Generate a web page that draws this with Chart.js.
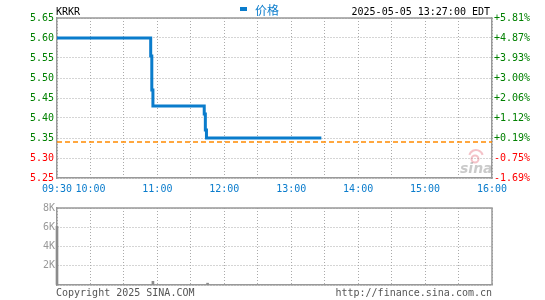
<!DOCTYPE html>
<html>
<head>
<meta charset="utf-8">
<script src="https://cdn.jsdelivr.net/npm/chart.js@4"></script>
<style>
  body { margin: 0; background: #fff; }
  #wrap { position: relative; width: 545px; height: 300px; }
  canvas { position: absolute; left: 0; }
</style>
</head>
<body>
<div id="wrap">
  <canvas id="priceChart" width="545" height="200" style="top:0"></canvas>
  <canvas id="volChart" width="545" height="100" style="top:200px"></canvas>
</div>
<script>
// minutes since 09:30
const priceTimes = [0, 84, 85, 86, 132, 133, 134, 237];
const priceValues = [5.60, 5.60, 5.555, 5.47, 5.43, 5.41, 5.37, 5.35];
const prevClose = 5.34;
const volTimes = [0, 86, 135];
const volValues = [6100, 380, 190];
const tickMinutes = [0, 30, 60, 90, 120, 150, 180, 210, 240, 270, 300, 330, 360, 390];
const tickLabels = ["09:30", "10:00", "", "11:00", "", "12:00", "", "13:00", "", "14:00", "", "15:00", "", "16:00"];
const symbolName = "KRKR";
const stampText = "2025-05-05 13:27:00 EDT";
const legendText = "价格";

const mono = "'DejaVu Sans Mono', 'Liberation Mono', monospace";
const blue = "#0a7ccc";
const gridColor = "#aaaaaa";
const frameColor = "#999999";

const priceData = priceTimes.map((t, i) => ({ x: t, y: priceValues[i] }));
const closeData = [{ x: 0, y: prevClose }, { x: 390, y: prevClose }];
const volData = volTimes.map((t, i) => ({ x: t, y: volValues[i] }));

function setTicks(axis) {
  axis.ticks = tickMinutes.map((v) => ({ value: v }));
}

const headerPlugin = {
  id: "header",
  afterDraw(chart) {
    const ctx = chart.ctx;
    const a = chart.chartArea;
    ctx.save();
    // top frame line
    ctx.strokeStyle = frameColor;
    ctx.lineWidth = 1.5;
    ctx.beginPath();
    ctx.moveTo(a.left, a.top);
    ctx.lineTo(a.right, a.top);
    ctx.stroke();
    ctx.font = "10px " + mono;
    ctx.textBaseline = "middle";
    ctx.fillStyle = "#000";
    ctx.textAlign = "left";
    ctx.fillText(symbolName, 56, 12);
    ctx.textAlign = "right";
    ctx.fillText(stampText, 490, 12);
    // legend
    ctx.fillStyle = blue;
    ctx.fillRect(240, 7, 7, 4);
    ctx.font = "12px 'Noto Sans CJK SC'";
    ctx.textAlign = "left";
    ctx.fillText(legendText, 255, 10);
    ctx.restore();
  },
  beforeDatasetsDraw(chart) {
    // sina watermark
    const ctx = chart.ctx;
    ctx.save();
    ctx.globalAlpha = 0.35;
    ctx.strokeStyle = "#e05060";
    ctx.lineWidth = 2;
    ctx.beginPath();
    ctx.arc(475, 159, 3.5, 0, Math.PI * 2);
    ctx.stroke();
    ctx.beginPath();
    ctx.arc(476, 157, 7, Math.PI * 1.1, Math.PI * 1.9);
    ctx.stroke();
    ctx.fillStyle = "#666";
    ctx.font = "italic bold 14px 'DejaVu Sans'";
    ctx.textAlign = "left";
    ctx.textBaseline = "middle";
    ctx.fillText("sina", 460, 169);
    ctx.restore();
  },
};

new Chart(document.getElementById("priceChart"), {
  type: "line",
  data: {
    datasets: [
      {
        label: legendText,
        data: priceData,
        borderColor: blue,
        borderWidth: 3,
        pointRadius: 0,
        stepped: "after",
        yAxisID: "y",
      },
      {
        label: "close",
        data: closeData,
        borderColor: "#ff8a00",
        borderWidth: 1.5,
        borderDash: [5, 3],
        pointRadius: 0,
        yAxisID: "y",
      },
    ],
  },
  options: {
    animation: false,
    responsive: false,
    layout: { padding: { top: 18, left: 0, right: 0, bottom: 0 } },
    plugins: { legend: { display: false }, tooltip: { enabled: false } },
    scales: {
      x: {
        type: "linear",
        min: 0,
        max: 390,
        afterBuildTicks: setTicks,
        afterFit: (s) => { s.height = 22; },
        grid: { color: gridColor, drawTicks: false },
        border: { color: frameColor, width: 1.5, dash: [1, 2] },
        ticks: {
          autoSkip: false,
          maxRotation: 0,
          padding: 5,
          color: blue,
          font: { family: mono, size: 10 },
          callback: (v, i) => tickLabels[i],
        },
      },
      y: {
        position: "left",
        min: 5.25,
        max: 5.65,
        afterFit: (s) => { s.width = 57; },
        grid: { color: gridColor, drawTicks: false },
        border: { color: frameColor, width: 1.5, dash: [1, 2] },
        ticks: {
          stepSize: 0.05,
          padding: 3,
          font: { family: mono, size: 10 },
          color: (c) => (c.tick.value < prevClose ? "#ff0000" : "#008000"),
          callback: (v) => v.toFixed(2),
        },
      },
      y2: {
        position: "right",
        min: 5.25,
        max: 5.65,
        afterFit: (s) => { s.width = 53; },
        grid: { display: false, drawTicks: false },
        border: { color: frameColor, width: 1.5 },
        ticks: {
          stepSize: 0.05,
          padding: 2,
          font: { family: mono, size: 10 },
          color: (c) => (c.tick.value < prevClose ? "#ff0000" : "#008000"),
          callback: (v) => {
            const p = ((v - prevClose) / prevClose) * 100;
            return (p >= 0 ? "+" : "") + p.toFixed(2) + "%";
          },
        },
      },
    },
  },
  plugins: [headerPlugin],
});

const footerPlugin = {
  id: "footer",
  afterDraw(chart) {
    const ctx = chart.ctx;
    const a = chart.chartArea;
    ctx.save();
    // top and right frame lines
    ctx.strokeStyle = frameColor;
    ctx.lineWidth = 1.5;
    ctx.beginPath();
    ctx.moveTo(a.left, a.top);
    ctx.lineTo(a.right, a.top);
    ctx.lineTo(a.right, a.bottom);
    ctx.stroke();
    ctx.font = "10px " + mono;
    ctx.fillStyle = "#555";
    ctx.textBaseline = "middle";
    ctx.textAlign = "left";
    ctx.fillText("Copyright 2025 SINA.COM", 56, 93);
    ctx.textAlign = "right";
    ctx.fillText("http://finance.sina.com.cn", 492, 93);
    ctx.restore();
  },
};

new Chart(document.getElementById("volChart"), {
  type: "bar",
  data: {
    datasets: [
      {
        label: "volume",
        data: volData,
        backgroundColor: "#8c8c8c",
        barThickness: 2,
        clip: false,
      },
    ],
  },
  options: {
    animation: false,
    responsive: false,
    layout: { padding: { top: 1, left: 0, right: 53, bottom: 0 } },
    plugins: { legend: { display: false }, tooltip: { enabled: false } },
    scales: {
      x: {
        type: "linear",
        min: 0,
        max: 390,
        offset: false,
        afterBuildTicks: setTicks,
        afterFit: (s) => { s.height = 15; },
        grid: { color: gridColor, drawTicks: false, offset: false },
        border: { color: frameColor, width: 1.5, dash: [1, 2] },
        ticks: { display: false },
      },
      y: {
        min: 0,
        max: 8000,
        afterFit: (s) => { s.width = 57; },
        grid: { color: gridColor, drawTicks: false },
        border: { color: frameColor, width: 1.5, dash: [1, 2] },
        ticks: {
          stepSize: 2000,
          padding: 2,
          color: "#999",
          font: { family: mono, size: 10 },
          callback: (v) => (v === 0 ? "" : v / 1000 + "K"),
        },
      },
    },
  },
  plugins: [footerPlugin],
});
</script>
</body>
</html>
